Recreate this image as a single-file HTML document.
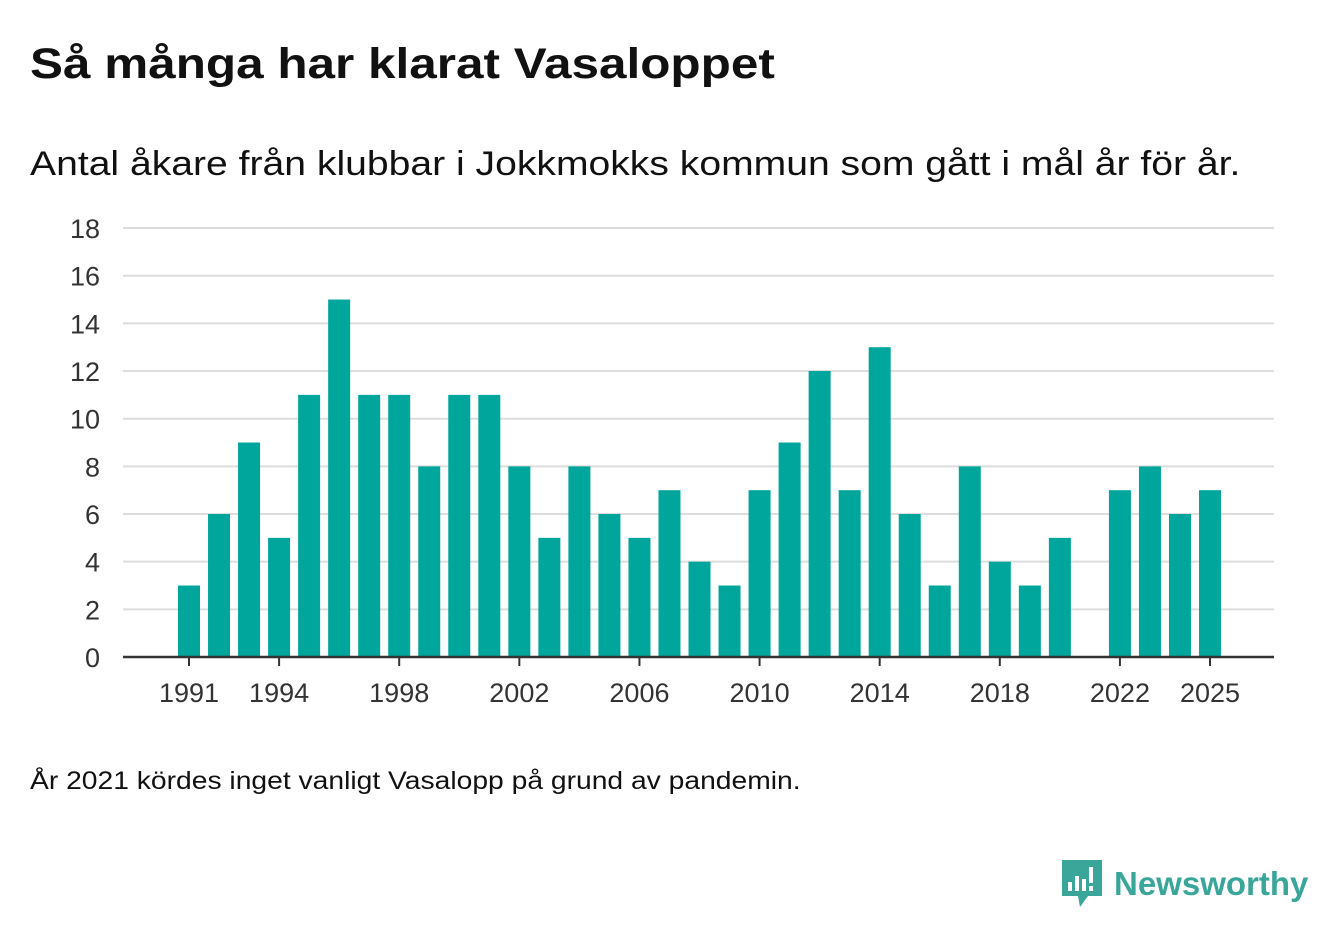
<!DOCTYPE html>
<html><head><meta charset="utf-8"><style>
body{margin:0;width:1340px;height:940px;background:#fff;font-family:"Liberation Sans",sans-serif;color:#111;position:relative;overflow:hidden}
#title{position:absolute;left:30px;top:40px;font-size:43px;font-weight:bold;margin:0;transform:scaleX(1.15);transform-origin:0 0;white-space:nowrap}
#sub{position:absolute;left:30px;top:145px;font-size:34px;transform:scaleX(1.15);transform-origin:0 0;white-space:nowrap}
#note{position:absolute;left:30px;top:767px;font-size:25px;transform:scaleX(1.13);transform-origin:0 0;white-space:nowrap}
#logo{position:absolute;left:1062px;top:860px;display:flex;align-items:center}
#logo span{font-size:33px;font-weight:bold;color:#3aa69a;margin-left:12px}
svg text{font-family:"Liberation Sans",sans-serif;font-size:27px;fill:#333}
</style></head><body>
<h1 id="title">Så många har klarat Vasaloppet</h1>
<div id="sub">Antal åkare från klubbar i Jokkmokks kommun som gått i mål år för år.</div>
<svg id="chart" width="1340" height="740" style="position:absolute;left:0;top:0"></svg>
<div id="note">År 2021 kördes inget vanligt Vasalopp på grund av pandemin.</div>
<div id="logo">
<svg width="40" height="48" viewBox="0 0 40 48"><path d="M0 0H40V36H26L18 47L16 36H0Z" fill="#3aa69a"/><rect x="6" y="22" width="4" height="9" fill="#fff"/><rect x="13" y="16" width="4" height="15" fill="#fff"/><rect x="20" y="19" width="4" height="12" fill="#fff"/><rect x="27" y="7" width="4" height="16" fill="#fff"/><rect x="27" y="26" width="4" height="5" fill="#fff"/></svg>
<span>Newsworthy</span></div>
<script>
const years=[1991,1992,1993,1994,1995,1996,1997,1998,1999,2000,2001,2002,2003,2004,2005,2006,2007,2008,2009,2010,2011,2012,2013,2014,2015,2016,2017,2018,2019,2020,2021,2022,2023,2024,2025];
const values=[3,6,9,5,11,15,11,11,8,11,11,8,5,8,6,5,7,4,3,7,9,12,7,13,6,3,8,4,3,5,null,7,8,6,7];
const yTicks=[0,2,4,6,8,10,12,14,16,18];
const xTicks=[1991,1994,1998,2002,2006,2010,2014,2018,2022,2025];
const NS="http://www.w3.org/2000/svg",svg=document.getElementById('chart');
const x=yr=>189+(yr-1991)*30.03, y=v=>657-v*23.83;
function mk(t,a){const e=document.createElementNS(NS,t);for(const k in a)e.setAttribute(k,a[k]);svg.appendChild(e);return e;}
yTicks.forEach(v=>{
 if(v>0){const g=mk('line',{x1:123,x2:1274,y1:y(v),y2:y(v),stroke:'#ddd','stroke-width':2});
 
 }
 const t=mk('text',{x:100,y:y(v)+10,'text-anchor':'end'});t.textContent=v;
 
 
});
years.forEach((yr,i)=>{const v=values[i];if(v==null)return;
 const r=mk('rect',{x:x(yr)-11,y:y(v),width:22,height:y(0)-y(v),fill:'#00a59b'});
 
 
});
const ax=mk('line',{x1:123,x2:1274,y1:657,y2:657,stroke:'#333','stroke-width':2.5});


xTicks.forEach(yr=>{
 mk('line',{x1:x(yr),x2:x(yr),y1:657,y2:666,stroke:'#333','stroke-width':2});
 const t=mk('text',{x:x(yr),y:702,'text-anchor':'middle'});t.textContent=yr;
 
 
});
</script>
</body></html>
